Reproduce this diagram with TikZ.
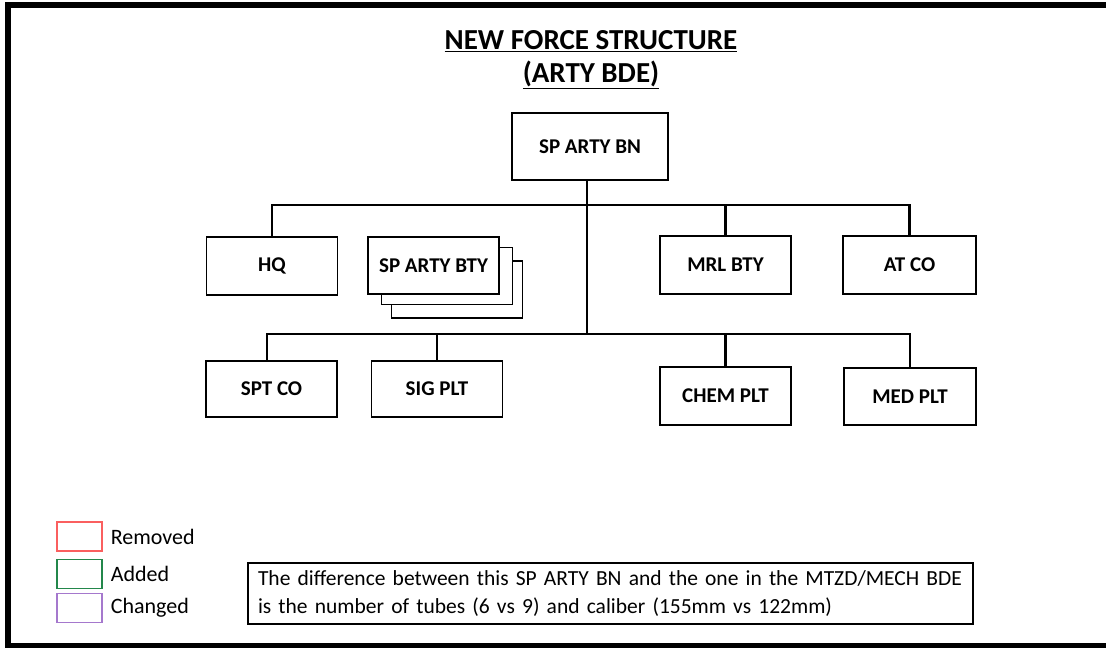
\documentclass[tikz,border=0pt]{standalone}
\usepackage{fontspec}
\setmainfont{Carlito}
\usepackage{tikz}
\usetikzlibrary{positioning}
\definecolor{removed}{RGB}{250,95,95}
\definecolor{added}{RGB}{35,135,75}
\definecolor{changed}{RGB}{165,120,205}

\begin{document}
\begin{tikzpicture}[x=1pt,y=-1pt,
    unit/.style={draw,line width=1.1pt,minimum width=131pt,minimum height=58pt,
        inner sep=0pt,font=\fontsize{21}{24}\selectfont\bfseries},
    bus/.style={line width=2.4pt},
    legendbox/.style={draw,line width=1.2pt,minimum width=45pt,minimum height=29pt,inner sep=0pt},
    legendtext/.style={right=8pt,font=\fontsize{22}{26}\selectfont,inner sep=0pt}]
    \useasboundingbox (0,0) rectangle (1106,648);
    % frame
    \draw[line width=6pt] (1106,4.5) -- (8,4.5) -- (8,645.5) -- (1106,645.5);

    % title
    \node[align=center,font=\fontsize{29}{33}\selectfont\bfseries] (title) at (591,60)
        {\underline{NEW FORCE STRUCTURE}\\\underline{(ARTY BDE)}};

    % battalion
    \node[unit,minimum width=156pt,minimum height=67pt] (bn) at (590,146.5) {SP ARTY BN};

    % first row
    \node[unit] (hq) at (272,266) {HQ};
    \node[unit,fill=white,minimum height=57pt] (bty3) at (457,289.5) {};
    \node[unit,fill=white,minimum height=57pt] (bty2) at (447,276) {};
    \node[unit,fill=white,minimum height=57pt] (bty) at (433.5,265.5) {SP ARTY BTY};
    \node[unit] (mrl) at (725.5,265) {MRL BTY};
    \node[unit,minimum width=133pt] (atco) at (909.5,265) {AT CO};

    % second row
    \node[unit,minimum height=56pt] (spt) at (271.5,389) {SPT CO};
    \node[unit,minimum height=56pt] (sig) at (437,389) {SIG PLT};
    \node[unit] (chem) at (725.5,396) {CHEM PLT};
    \node[unit,minimum width=132pt,minimum height=57pt] (med) at (910,396.5) {MED PLT};

    % connectors
    \coordinate (topbus) at (587,205);
    \coordinate (lowbus) at (587,334);
    \draw[line width=1.8pt] (bn.south -| topbus) -- (lowbus);
    \draw[bus] (hq.north) |- (topbus) -| (atco.north);
    \draw[bus] (bty.north -| 430,0) -- (bty.north -| 430,0 |- topbus);
    \draw[bus] (mrl.north) -- (mrl.north |- topbus);
    \draw[bus] (spt.north -| 267,0) |- (lowbus) -| (med.north);
    \draw[bus] (sig.north) -- (sig.north |- lowbus);
    \draw[bus] (chem.north) -- (chem.north |- lowbus);

    % legend
    \node[legendbox,draw=removed] (rem) at (79.5,536.5) {};
    \node[legendtext] at (rem.east) {Removed};
    \node[legendbox,draw=added] (add) at (79.5,574) {};
    \node[legendtext] at (add.east) {Added};
    \node[legendbox,draw=changed] (chg) at (79.5,608) {};
    \node[legendtext] at (chg.east) {Changed};

    % note
    \node[draw,line width=1.1pt,minimum width=725pt,minimum height=61pt,text width=705pt,
        align=left,font=\fontsize{21.5}{28}\selectfont] (note) at (610.5,593.5)
        {The difference between this SP ARTY BN and the one in the MTZD/MECH BDE\\
         is the number of tubes (6 vs 9) and caliber (155mm vs 122mm)};
\end{tikzpicture}
\end{document}
